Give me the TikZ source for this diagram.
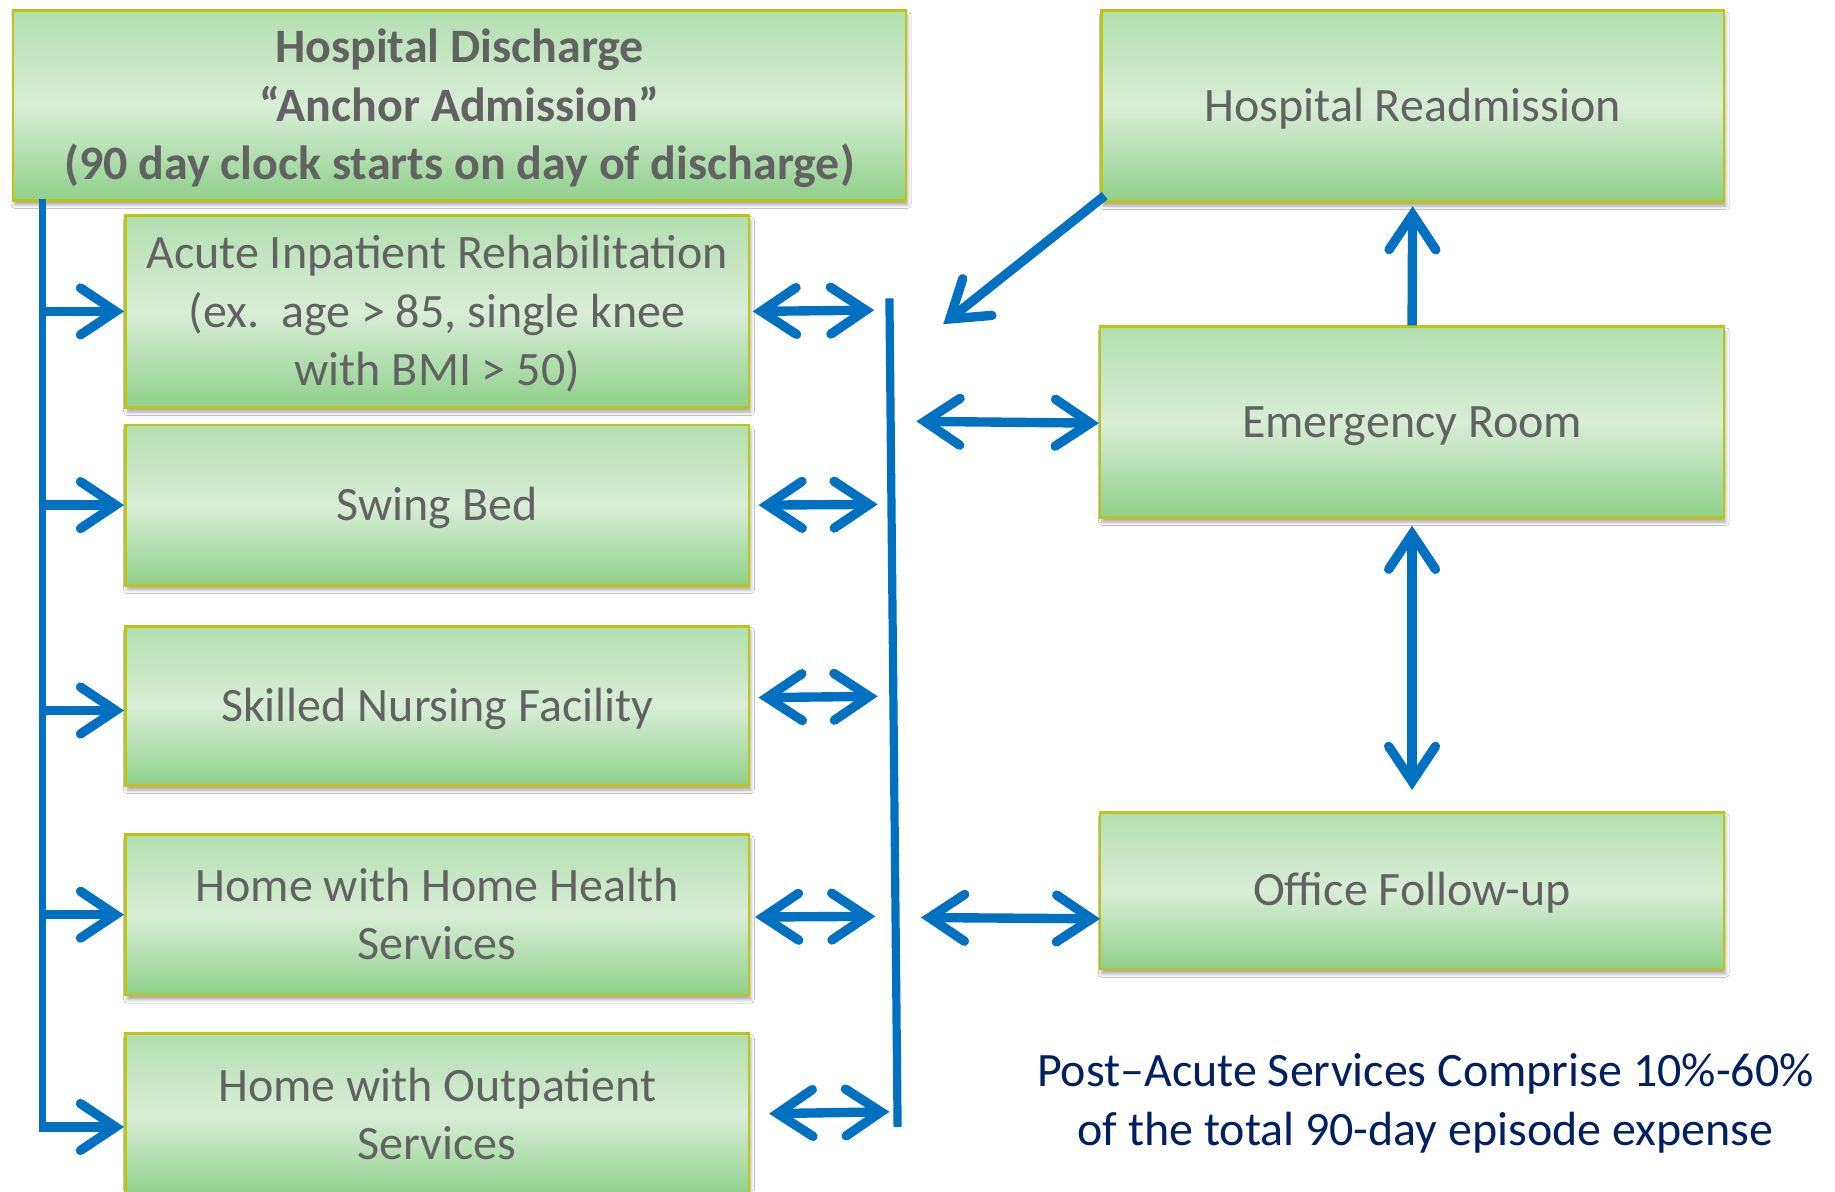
\documentclass[tikz,border=0pt]{standalone}
\usepackage{fontspec}
\setmainfont{Carlito}
\usetikzlibrary{arrows.meta,shadows.blur}

\definecolor{boxtop}{RGB}{178,223,175}
\definecolor{boxmid}{RGB}{216,238,214}
\definecolor{boxbot}{RGB}{144,208,140}
\definecolor{boxedge}{RGB}{190,196,20}
\definecolor{txtgray}{RGB}{98,98,98}
\definecolor{flowblue}{RGB}{0,112,192}
\definecolor{navy}{RGB}{0,32,96}

\tikzset{
  box/.style={draw=boxedge, line width=2.2pt, rectangle, anchor=north west,
    top color=boxtop, bottom color=boxbot, middle color=boxmid,
    text=txtgray, align=center, inner sep=0pt,
    font=\fontsize{41}{50}\selectfont,
    text height=37pt, text depth=11pt,
    blur shadow={shadow xshift=1.5pt, shadow yshift=-4pt,
      shadow blur radius=3pt, shadow opacity=35}},
  twolines/.style={text height=78pt, text depth=1pt},
  threelines/.style={text height=128pt, text depth=1pt},
  tipend/.tip={Straight Barb[length=30pt, width=40pt, line cap=round, line join=miter]},
  flow/.style={draw=flowblue, line width=8pt},
  trunkline/.style={draw=flowblue, line width=6pt},
  oneway/.style={flow, -tipend},
  twoway/.style={flow, tipend-tipend},
}

\begin{document}
\begin{tikzpicture}[x=1pt, y=-1pt]
  \clip (0,0) rectangle (1568,1018);
  \fill[white] (0,0) rectangle (1568,1018);

  % main discharge box and the post-acute settings
  \node[box, threelines, minimum width=763pt, minimum height=162pt, font=\fontsize{41}{50}\selectfont\bfseries]
    (disch) at (10,8) {Hospital Discharge\\“Anchor Admission”\\(90 day clock starts on day of discharge)};
  \node[box, threelines, minimum width=533pt, minimum height=164pt] (acute) at (106,183)
    {Acute Inpatient Rehabilitation\\(ex.\ \ age > 85, single knee\\with BMI > 50)};
  \node[box, minimum width=533pt, minimum height=137pt] (swing) at (106,362) {Swing Bed};
  \node[box, minimum width=533pt, minimum height=136pt] (snf) at (106,534) {Skilled Nursing Facility};
  \node[box, twolines, minimum width=533pt, minimum height=137pt] (hh) at (106,712) {Home with Home Health\\Services};
  \node[box, twolines, minimum width=533pt, minimum height=139pt] (outpt) at (106,882) {Home with Outpatient\\Services};

  % right-hand column
  \node[box, minimum width=532pt, minimum height=163pt] (readm) at (940,8) {Hospital Readmission};
  \node[box, minimum width=533pt, minimum height=163pt] (er) at (939,278) {Emergency Room};
  \node[box, minimum width=533pt, minimum height=134pt] (office) at (939,693) {Office Follow-up};

  % summary note
  \node[text=navy, align=center, font=\fontsize{41}{50}\selectfont, anchor=center]
    (note) at (1218,943) {Post–Acute Services Comprise 10\%-60\%\\of the total 90-day episode expense};

  % left trunk feeding every setting
  \coordinate (trunk) at (36,170);
  \coordinate (trunkend) at (36,963);
  \draw[trunkline] (trunk) -- (trunkend);
  \draw[oneway] ([xshift=-3pt]trunkend) -- (trunkend -| outpt.west);
  \draw[oneway] (acute.west -| trunk) -- (acute.west);
  \draw[oneway] (swing.west -| trunk) -- (swing.west);
  \draw[oneway] ([yshift=-4pt]snf.west -| trunk) -- ([yshift=-4pt]snf.west);
  \draw[oneway] (hh.west -| trunk) -- (hh.west);

  % collecting bar on the right of the settings
  \coordinate (bartop) at (760,255);
  \coordinate (barbot) at (767,963);
  \draw[trunkline, line width=7pt] (bartop) -- (barbot);

  \coordinate (b1) at (747,265);
  \coordinate (b2) at (750,431);
  \coordinate (b3) at (750,595);
  \coordinate (b4) at (748,783);
  \coordinate (b5) at (760,950);
  \draw[twoway] ([xshift=2pt]acute.east) -- (b1);
  \draw[twoway] ([xshift=7pt]swing.east) -- (b2);
  \draw[twoway] ([xshift=7pt,yshift=7pt]snf.east) -- (b3);
  \draw[twoway] ([xshift=4pt,yshift=-2pt]hh.east) -- (b4);
  \draw[twoway] ([xshift=16pt,yshift=1pt]outpt.east) -- (b5);

  % links to the acute-care side
  \coordinate (c1) at (783,360);
  \coordinate (c2) at (787,784);
  \coordinate (diagend) at (806,277);
  \draw[twoway] (c1) -- ([yshift=-1pt]er.west);
  \draw[twoway] (c2) -- ([xshift=1pt,yshift=-24pt]office.west);
  \draw[oneway] ([xshift=4pt,yshift=6pt]readm.south west) -- (diagend);
  \draw[oneway] (er.north) -- ([yshift=-3pt]readm.south);
  \draw[twoway] ([yshift=-6pt]er.south) -- ([yshift=18pt]office.north);
\end{tikzpicture}
\end{document}
